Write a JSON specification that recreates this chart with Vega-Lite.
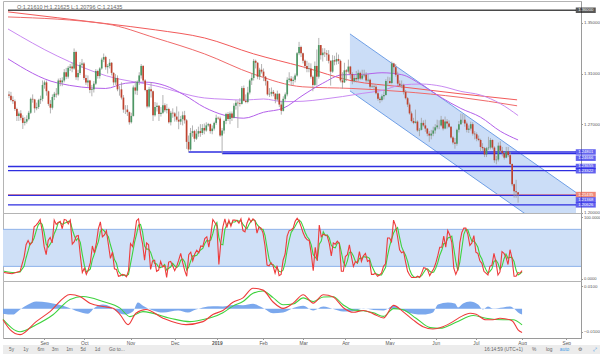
{
"$schema":"https://vega.github.io/schema/vega-lite/v6.json",
"padding":0,
"background":"#ffffff",
"spacing":0,
"bounds":"flush",
"config":{"view":{"stroke":"#b4b4b4"},"font":"Liberation Sans","axis":{"grid":false,"title":null,"labelFont":"Liberation Sans","labelFontSize":4.4,"labelColor":"#555555","domainColor":"#9a9a9a","tickColor":"#9a9a9a","tickSize":1.5,"labelPadding":1,"labelOverlap":false,"labelFlush":false,"labelBound":false}},
"datasets":{
"k":[{"i":0,"o":1.2935,"h":1.296,"l":1.2905,"c":1.2925},{"i":1,"o":1.2925,"h":1.2955,"l":1.288,"c":1.289},{"i":2,"o":1.289,"h":1.292,"l":1.286,"c":1.288},{"i":3,"o":1.288,"h":1.2895,"l":1.2805,"c":1.282},{"i":4,"o":1.282,"h":1.283,"l":1.2725,"c":1.2765},{"i":5,"o":1.2765,"h":1.28,"l":1.2725,"c":1.2785},{"i":6,"o":1.2785,"h":1.281,"l":1.273,"c":1.275},{"i":7,"o":1.275,"h":1.277,"l":1.2662,"c":1.271},{"i":8,"o":1.271,"h":1.2755,"l":1.269,"c":1.272},{"i":9,"o":1.272,"h":1.277,"l":1.2705,"c":1.274},{"i":10,"o":1.274,"h":1.2805,"l":1.273,"c":1.279},{"i":11,"o":1.279,"h":1.291,"l":1.278,"c":1.29},{"i":12,"o":1.29,"h":1.2935,"l":1.287,"c":1.2895},{"i":13,"o":1.2895,"h":1.29,"l":1.279,"c":1.2825},{"i":14,"o":1.2825,"h":1.287,"l":1.281,"c":1.2835},{"i":15,"o":1.2835,"h":1.29,"l":1.282,"c":1.289},{"i":16,"o":1.289,"h":1.2925,"l":1.286,"c":1.29},{"i":17,"o":1.29,"h":1.3045,"l":1.288,"c":1.301},{"i":18,"o":1.301,"h":1.3045,"l":1.298,"c":1.303},{"i":19,"o":1.303,"h":1.3045,"l":1.2925,"c":1.296},{"i":20,"o":1.296,"h":1.2965,"l":1.2845,"c":1.286},{"i":21,"o":1.286,"h":1.289,"l":1.2785,"c":1.283},{"i":22,"o":1.283,"h":1.2935,"l":1.2815,"c":1.2915},{"i":23,"o":1.2915,"h":1.2955,"l":1.289,"c":1.294},{"i":24,"o":1.294,"h":1.2985,"l":1.291,"c":1.2935},{"i":25,"o":1.2935,"h":1.306,"l":1.2925,"c":1.3045},{"i":26,"o":1.3045,"h":1.3065,"l":1.3,"c":1.303},{"i":27,"o":1.303,"h":1.307,"l":1.3,"c":1.3045},{"i":28,"o":1.3045,"h":1.3135,"l":1.303,"c":1.311},{"i":29,"o":1.311,"h":1.3145,"l":1.3055,"c":1.3075},{"i":30,"o":1.3075,"h":1.316,"l":1.306,"c":1.3145},{"i":31,"o":1.3145,"h":1.3175,"l":1.312,"c":1.3155},{"i":32,"o":1.3155,"h":1.3185,"l":1.311,"c":1.314},{"i":33,"o":1.314,"h":1.3298,"l":1.313,"c":1.327},{"i":34,"o":1.327,"h":1.328,"l":1.305,"c":1.307},{"i":35,"o":1.307,"h":1.313,"l":1.3045,"c":1.3105},{"i":36,"o":1.3105,"h":1.319,"l":1.309,"c":1.317},{"i":37,"o":1.317,"h":1.3215,"l":1.3145,"c":1.318},{"i":38,"o":1.318,"h":1.319,"l":1.305,"c":1.3065},{"i":39,"o":1.3065,"h":1.309,"l":1.301,"c":1.303},{"i":40,"o":1.303,"h":1.3085,"l":1.2995,"c":1.3045},{"i":41,"o":1.3045,"h":1.305,"l":1.2945,"c":1.297},{"i":42,"o":1.297,"h":1.301,"l":1.292,"c":1.2975},{"i":43,"o":1.2975,"h":1.304,"l":1.295,"c":1.302},{"i":44,"o":1.302,"h":1.3135,"l":1.301,"c":1.312},{"i":45,"o":1.312,"h":1.313,"l":1.306,"c":1.308},{"i":46,"o":1.308,"h":1.315,"l":1.306,"c":1.314},{"i":47,"o":1.314,"h":1.3225,"l":1.313,"c":1.321},{"i":48,"o":1.321,"h":1.3258,"l":1.319,"c":1.323},{"i":49,"o":1.323,"h":1.324,"l":1.313,"c":1.315},{"i":50,"o":1.315,"h":1.3175,"l":1.31,"c":1.316},{"i":51,"o":1.316,"h":1.3215,"l":1.314,"c":1.3185},{"i":52,"o":1.3185,"h":1.319,"l":1.3085,"c":1.3105},{"i":53,"o":1.3105,"h":1.311,"l":1.3005,"c":1.303},{"i":54,"o":1.303,"h":1.3095,"l":1.301,"c":1.3065},{"i":55,"o":1.3065,"h":1.3085,"l":1.296,"c":1.2975},{"i":56,"o":1.2975,"h":1.3,"l":1.2925,"c":1.2975},{"i":57,"o":1.2975,"h":1.303,"l":1.2895,"c":1.291},{"i":58,"o":1.291,"h":1.293,"l":1.279,"c":1.2815},{"i":59,"o":1.2815,"h":1.285,"l":1.278,"c":1.2815},{"i":60,"o":1.2815,"h":1.285,"l":1.2765,"c":1.2795},{"i":61,"o":1.2795,"h":1.28,"l":1.2696,"c":1.2715},{"i":62,"o":1.2715,"h":1.279,"l":1.2705,"c":1.2765},{"i":63,"o":1.2765,"h":1.3005,"l":1.276,"c":1.299},{"i":64,"o":1.299,"h":1.304,"l":1.2935,"c":1.2965},{"i":65,"o":1.2965,"h":1.3045,"l":1.293,"c":1.3035},{"i":66,"o":1.3035,"h":1.311,"l":1.301,"c":1.3085},{"i":67,"o":1.3085,"h":1.3175,"l":1.306,"c":1.316},{"i":68,"o":1.316,"h":1.3165,"l":1.303,"c":1.3045},{"i":69,"o":1.3045,"h":1.3055,"l":1.296,"c":1.297},{"i":70,"o":1.297,"h":1.2975,"l":1.2825,"c":1.284},{"i":71,"o":1.284,"h":1.2995,"l":1.283,"c":1.2975},{"i":72,"o":1.2975,"h":1.303,"l":1.291,"c":1.296},{"i":73,"o":1.296,"h":1.2965,"l":1.2725,"c":1.277},{"i":74,"o":1.277,"h":1.2875,"l":1.276,"c":1.2835},{"i":75,"o":1.2835,"h":1.287,"l":1.28,"c":1.2845},{"i":76,"o":1.2845,"h":1.285,"l":1.2725,"c":1.278},{"i":77,"o":1.278,"h":1.2835,"l":1.276,"c":1.279},{"i":78,"o":1.279,"h":1.293,"l":1.278,"c":1.285},{"i":79,"o":1.285,"h":1.2865,"l":1.2795,"c":1.281},{"i":80,"o":1.281,"h":1.286,"l":1.2785,"c":1.282},{"i":81,"o":1.282,"h":1.283,"l":1.2705,"c":1.2715},{"i":82,"o":1.2715,"h":1.2805,"l":1.269,"c":1.279},{"i":83,"o":1.279,"h":1.2825,"l":1.275,"c":1.2785},{"i":84,"o":1.2785,"h":1.2795,"l":1.272,"c":1.276},{"i":85,"o":1.276,"h":1.284,"l":1.272,"c":1.2735},{"i":86,"o":1.2735,"h":1.28,"l":1.266,"c":1.272},{"i":87,"o":1.272,"h":1.2765,"l":1.2695,"c":1.274},{"i":88,"o":1.274,"h":1.28,"l":1.269,"c":1.277},{"i":89,"o":1.277,"h":1.2805,"l":1.2705,"c":1.273},{"i":90,"o":1.273,"h":1.274,"l":1.2505,"c":1.256},{"i":91,"o":1.256,"h":1.261,"l":1.24801,"c":1.25},{"i":92,"o":1.25,"h":1.267,"l":1.249,"c":1.263},{"i":93,"o":1.263,"h":1.269,"l":1.26,"c":1.2645},{"i":94,"o":1.2645,"h":1.2655,"l":1.256,"c":1.2585},{"i":95,"o":1.2585,"h":1.266,"l":1.2575,"c":1.2625},{"i":96,"o":1.2625,"h":1.268,"l":1.26,"c":1.2645},{"i":97,"o":1.2645,"h":1.27,"l":1.26,"c":1.263},{"i":98,"o":1.263,"h":1.27,"l":1.2615,"c":1.267},{"i":99,"o":1.267,"h":1.2705,"l":1.262,"c":1.265},{"i":100,"o":1.265,"h":1.2715,"l":1.264,"c":1.269},{"i":101,"o":1.269,"h":1.271,"l":1.268,"c":1.27},{"i":102,"o":1.27,"h":1.2705,"l":1.2625,"c":1.2645},{"i":103,"o":1.2645,"h":1.269,"l":1.262,"c":1.2665},{"i":104,"o":1.2665,"h":1.272,"l":1.265,"c":1.271},{"i":105,"o":1.271,"h":1.2775,"l":1.2695,"c":1.275},{"i":106,"o":1.275,"h":1.276,"l":1.2735,"c":1.2745},{"i":107,"o":1.2745,"h":1.276,"l":1.26,"c":1.261},{"i":108,"o":1.261,"h":1.267,"l":1.24666,"c":1.265},{"i":109,"o":1.265,"h":1.2735,"l":1.2625,"c":1.2725},{"i":110,"o":1.2725,"h":1.279,"l":1.27,"c":1.278},{"i":111,"o":1.278,"h":1.2795,"l":1.2725,"c":1.274},{"i":112,"o":1.274,"h":1.28,"l":1.27,"c":1.2785},{"i":113,"o":1.2785,"h":1.28,"l":1.2725,"c":1.275},{"i":114,"o":1.275,"h":1.2865,"l":1.2745,"c":1.2845},{"i":115,"o":1.2845,"h":1.289,"l":1.2815,"c":1.287},{"i":116,"o":1.287,"h":1.2885,"l":1.267,"c":1.2865},{"i":117,"o":1.2865,"h":1.2905,"l":1.284,"c":1.286},{"i":118,"o":1.286,"h":1.3,"l":1.2855,"c":1.2985},{"i":119,"o":1.2985,"h":1.3005,"l":1.288,"c":1.2885},{"i":120,"o":1.2885,"h":1.2935,"l":1.2865,"c":1.2875},{"i":121,"o":1.2875,"h":1.2995,"l":1.2865,"c":1.295},{"i":122,"o":1.295,"h":1.3055,"l":1.2935,"c":1.3045},{"i":123,"o":1.3045,"h":1.31,"l":1.301,"c":1.3065},{"i":124,"o":1.3065,"h":1.3215,"l":1.3045,"c":1.32},{"i":125,"o":1.32,"h":1.321,"l":1.314,"c":1.3185},{"i":126,"o":1.3185,"h":1.319,"l":1.3055,"c":1.3075},{"i":127,"o":1.3075,"h":1.3145,"l":1.305,"c":1.313},{"i":128,"o":1.313,"h":1.3175,"l":1.31,"c":1.3115},{"i":129,"o":1.3115,"h":1.314,"l":1.304,"c":1.3075},{"i":130,"o":1.3075,"h":1.308,"l":1.3005,"c":1.304},{"i":131,"o":1.304,"h":1.3045,"l":1.2925,"c":1.2935},{"i":132,"o":1.2935,"h":1.2985,"l":1.2915,"c":1.294},{"i":133,"o":1.294,"h":1.299,"l":1.292,"c":1.2955},{"i":134,"o":1.2955,"h":1.297,"l":1.292,"c":1.294},{"i":135,"o":1.294,"h":1.2945,"l":1.2865,"c":1.2895},{"i":136,"o":1.2895,"h":1.2965,"l":1.2885,"c":1.294},{"i":137,"o":1.294,"h":1.2945,"l":1.2835,"c":1.2855},{"i":138,"o":1.2855,"h":1.2885,"l":1.2775,"c":1.2805},{"i":139,"o":1.2805,"h":1.292,"l":1.28,"c":1.29},{"i":140,"o":1.29,"h":1.295,"l":1.2885,"c":1.2935},{"i":141,"o":1.2935,"h":1.307,"l":1.292,"c":1.305},{"i":142,"o":1.305,"h":1.311,"l":1.303,"c":1.306},{"i":143,"o":1.306,"h":1.308,"l":1.3005,"c":1.304},{"i":144,"o":1.304,"h":1.3075,"l":1.301,"c":1.305},{"i":145,"o":1.305,"h":1.31,"l":1.303,"c":1.3085},{"i":146,"o":1.3085,"h":1.327,"l":1.3075,"c":1.326},{"i":147,"o":1.326,"h":1.335,"l":1.3245,"c":1.331},{"i":148,"o":1.331,"h":1.332,"l":1.323,"c":1.326},{"i":149,"o":1.326,"h":1.3265,"l":1.318,"c":1.32},{"i":150,"o":1.32,"h":1.321,"l":1.314,"c":1.316},{"i":151,"o":1.316,"h":1.32,"l":1.311,"c":1.3135},{"i":152,"o":1.3135,"h":1.3185,"l":1.311,"c":1.314},{"i":153,"o":1.314,"h":1.318,"l":1.306,"c":1.3075},{"i":154,"o":1.3075,"h":1.3085,"l":1.296,"c":1.301},{"i":155,"o":1.301,"h":1.3195,"l":1.3,"c":1.316},{"i":156,"o":1.316,"h":1.329,"l":1.3005,"c":1.3075},{"i":157,"o":1.3075,"h":1.3381,"l":1.306,"c":1.3325},{"i":158,"o":1.3325,"h":1.3325,"l":1.321,"c":1.3245},{"i":159,"o":1.3245,"h":1.33,"l":1.3195,"c":1.3265},{"i":160,"o":1.3265,"h":1.33,"l":1.323,"c":1.326},{"i":161,"o":1.326,"h":1.3285,"l":1.32,"c":1.325},{"i":162,"o":1.325,"h":1.3285,"l":1.318,"c":1.32},{"i":163,"o":1.32,"h":1.3205,"l":1.3005,"c":1.3115},{"i":164,"o":1.3115,"h":1.3245,"l":1.3105,"c":1.3205},{"i":165,"o":1.3205,"h":1.324,"l":1.3165,"c":1.3195},{"i":166,"o":1.3195,"h":1.3265,"l":1.317,"c":1.3215},{"i":167,"o":1.3215,"h":1.325,"l":1.3175,"c":1.32},{"i":168,"o":1.32,"h":1.321,"l":1.303,"c":1.3045},{"i":169,"o":1.3045,"h":1.311,"l":1.298,"c":1.303},{"i":170,"o":1.303,"h":1.3185,"l":1.3025,"c":1.3125},{"i":171,"o":1.3125,"h":1.3135,"l":1.304,"c":1.3115},{"i":172,"o":1.3115,"h":1.321,"l":1.31,"c":1.3155},{"i":173,"o":1.3155,"h":1.316,"l":1.306,"c":1.3095},{"i":174,"o":1.3095,"h":1.311,"l":1.3015,"c":1.304},{"i":175,"o":1.304,"h":1.309,"l":1.303,"c":1.3065},{"i":176,"o":1.3065,"h":1.312,"l":1.303,"c":1.3055},{"i":177,"o":1.3055,"h":1.313,"l":1.304,"c":1.3105},{"i":178,"o":1.3105,"h":1.3115,"l":1.305,"c":1.306},{"i":179,"o":1.306,"h":1.313,"l":1.305,"c":1.3085},{"i":180,"o":1.3085,"h":1.313,"l":1.307,"c":1.309},{"i":181,"o":1.309,"h":1.311,"l":1.303,"c":1.3045},{"i":182,"o":1.3045,"h":1.3095,"l":1.303,"c":1.305},{"i":183,"o":1.305,"h":1.306,"l":1.298,"c":1.2995},{"i":184,"o":1.2995,"h":1.3015,"l":1.2985,"c":1.3},{"i":185,"o":1.3,"h":1.301,"l":1.2975,"c":1.2995},{"i":186,"o":1.2995,"h":1.3015,"l":1.2935,"c":1.2945},{"i":187,"o":1.2945,"h":1.2955,"l":1.2885,"c":1.29},{"i":188,"o":1.29,"h":1.2915,"l":1.2866,"c":1.289},{"i":189,"o":1.289,"h":1.2935,"l":1.288,"c":1.292},{"i":190,"o":1.292,"h":1.296,"l":1.2895,"c":1.293},{"i":191,"o":1.293,"h":1.3055,"l":1.2925,"c":1.304},{"i":192,"o":1.304,"h":1.3075,"l":1.3,"c":1.304},{"i":193,"o":1.304,"h":1.307,"l":1.3015,"c":1.3025},{"i":194,"o":1.3025,"h":1.3195,"l":1.3015,"c":1.318},{"i":195,"o":1.318,"h":1.3185,"l":1.3105,"c":1.315},{"i":196,"o":1.315,"h":1.3175,"l":1.3075,"c":1.309},{"i":197,"o":1.309,"h":1.3115,"l":1.3,"c":1.302},{"i":198,"o":1.302,"h":1.3045,"l":1.2995,"c":1.3005},{"i":199,"o":1.3005,"h":1.3045,"l":1.2985,"c":1.301},{"i":200,"o":1.301,"h":1.302,"l":1.2935,"c":1.2955},{"i":201,"o":1.2955,"h":1.297,"l":1.2895,"c":1.2905},{"i":202,"o":1.2905,"h":1.2915,"l":1.2835,"c":1.2855},{"i":203,"o":1.2855,"h":1.287,"l":1.2775,"c":1.2785},{"i":204,"o":1.2785,"h":1.28,"l":1.2715,"c":1.2725},{"i":205,"o":1.2725,"h":1.275,"l":1.27,"c":1.271},{"i":206,"o":1.271,"h":1.2815,"l":1.2705,"c":1.272},{"i":207,"o":1.272,"h":1.273,"l":1.264,"c":1.265},{"i":208,"o":1.265,"h":1.267,"l":1.2605,"c":1.2655},{"i":209,"o":1.2655,"h":1.275,"l":1.265,"c":1.271},{"i":210,"o":1.271,"h":1.273,"l":1.268,"c":1.269},{"i":211,"o":1.269,"h":1.2735,"l":1.264,"c":1.2665},{"i":212,"o":1.2665,"h":1.267,"l":1.2605,"c":1.2625},{"i":213,"o":1.2625,"h":1.2645,"l":1.256,"c":1.261},{"i":214,"o":1.261,"h":1.2655,"l":1.258,"c":1.2625},{"i":215,"o":1.2625,"h":1.268,"l":1.2605,"c":1.265},{"i":216,"o":1.265,"h":1.27,"l":1.2625,"c":1.2675},{"i":217,"o":1.2675,"h":1.2735,"l":1.266,"c":1.269},{"i":218,"o":1.269,"h":1.273,"l":1.266,"c":1.269},{"i":219,"o":1.269,"h":1.2765,"l":1.268,"c":1.2735},{"i":220,"o":1.2735,"h":1.274,"l":1.265,"c":1.2665},{"i":221,"o":1.2665,"h":1.276,"l":1.266,"c":1.272},{"i":222,"o":1.272,"h":1.274,"l":1.2665,"c":1.2705},{"i":223,"o":1.2705,"h":1.273,"l":1.267,"c":1.268},{"i":224,"o":1.268,"h":1.2685,"l":1.2585,"c":1.2595},{"i":225,"o":1.2595,"h":1.2605,"l":1.254,"c":1.2555},{"i":226,"o":1.2555,"h":1.259,"l":1.2506,"c":1.2545},{"i":227,"o":1.2545,"h":1.2665,"l":1.253,"c":1.2655},{"i":228,"o":1.2655,"h":1.2725,"l":1.2635,"c":1.27},{"i":229,"o":1.27,"h":1.2784,"l":1.2695,"c":1.2735},{"i":230,"o":1.2735,"h":1.278,"l":1.271,"c":1.2735},{"i":231,"o":1.2735,"h":1.277,"l":1.268,"c":1.2705},{"i":232,"o":1.2705,"h":1.272,"l":1.2635,"c":1.2655},{"i":233,"o":1.2655,"h":1.269,"l":1.263,"c":1.2665},{"i":234,"o":1.2665,"h":1.272,"l":1.265,"c":1.27},{"i":235,"o":1.27,"h":1.2715,"l":1.261,"c":1.2625},{"i":236,"o":1.2625,"h":1.2645,"l":1.258,"c":1.262},{"i":237,"o":1.262,"h":1.2635,"l":1.2565,"c":1.2585},{"i":238,"o":1.2585,"h":1.261,"l":1.2565,"c":1.2575},{"i":239,"o":1.2575,"h":1.2585,"l":1.2485,"c":1.252},{"i":240,"o":1.252,"h":1.255,"l":1.249,"c":1.251},{"i":241,"o":1.251,"h":1.252,"l":1.244,"c":1.246},{"i":242,"o":1.246,"h":1.252,"l":1.244,"c":1.251},{"i":243,"o":1.251,"h":1.26,"l":1.2495,"c":1.2515},{"i":244,"o":1.2515,"h":1.259,"l":1.25,"c":1.2575},{"i":245,"o":1.2575,"h":1.258,"l":1.25,"c":1.2515},{"i":246,"o":1.2515,"h":1.2525,"l":1.2395,"c":1.2415},{"i":247,"o":1.2415,"h":1.245,"l":1.2383,"c":1.242},{"i":248,"o":1.242,"h":1.2555,"l":1.2405,"c":1.253},{"i":249,"o":1.253,"h":1.2565,"l":1.2475,"c":1.249},{"i":250,"o":1.249,"h":1.252,"l":1.2445,"c":1.247},{"i":251,"o":1.247,"h":1.248,"l":1.242,"c":1.2435},{"i":252,"o":1.2435,"h":1.252,"l":1.243,"c":1.2485},{"i":253,"o":1.2485,"h":1.252,"l":1.244,"c":1.2455},{"i":254,"o":1.2455,"h":1.248,"l":1.2375,"c":1.2385},{"i":255,"o":1.2385,"h":1.239,"l":1.221,"c":1.2225},{"i":256,"o":1.2225,"h":1.223,"l":1.212,"c":1.217},{"i":257,"o":1.217,"h":1.226,"l":1.2118,"c":1.2161},{"i":258,"o":1.2161,"h":1.21625,"l":1.20796,"c":1.21435}],
"ma":[{"s":"A","i":-0.5,"v":1.3587},{"s":"A","i":49.3,"v":1.3494},{"s":"A","i":74.2,"v":1.3445},{"s":"A","i":99.1,"v":1.3381},{"s":"A","i":124,"v":1.3255},{"s":"A","i":148.9,"v":1.3153},{"s":"A","i":173.8,"v":1.3042},{"s":"A","i":198.7,"v":1.2995},{"s":"A","i":228.6,"v":1.294},{"s":"A","i":257.5,"v":1.2892},
{"s":"B","i":-0.5,"v":1.3547},{"s":"B","i":49.3,"v":1.3492},{"s":"B","i":74.2,"v":1.3381},{"s":"B","i":99.1,"v":1.3255},{"s":"B","i":124,"v":1.3095},{"s":"B","i":148.9,"v":1.2995},{"s":"B","i":173.8,"v":1.2982},{"s":"B","i":198.7,"v":1.2958},{"s":"B","i":228.6,"v":1.2912},{"s":"B","i":257.5,"v":1.2845},
{"s":"P1","i":-0.5,"v":1.3452},{"s":"P1","i":24.4,"v":1.3239},{"s":"P1","i":49.3,"v":1.3082},{"s":"P1","i":74.2,"v":1.3003},{"s":"P1","i":99,"v":1.2907},{"s":"P1","i":109,"v":1.2897},{"s":"P1","i":119,"v":1.289},{"s":"P1","i":129,"v":1.2899},{"s":"P1","i":139,"v":1.2878},{"s":"P1","i":149,"v":1.2881},{"s":"P1","i":159,"v":1.2897},{"s":"P1","i":169,"v":1.2918},{"s":"P1","i":179,"v":1.2943},{"s":"P1","i":189,"v":1.2966},{"s":"P1","i":199,"v":1.301},{"s":"P1","i":209,"v":1.3017},{"s":"P1","i":219,"v":1.3},{"s":"P1","i":229,"v":1.2959},{"s":"P1","i":239,"v":1.293},{"s":"P1","i":249,"v":1.2862},{"s":"P1","i":258,"v":1.2768},
{"s":"P2","i":-0.5,"v":1.3216},{"s":"P2","i":24.4,"v":1.3026},{"s":"P2","i":49,"v":1.2982},{"s":"P2","i":59,"v":1.3023},{"s":"P2","i":69,"v":1.3032},{"s":"P2","i":79,"v":1.3005},{"s":"P2","i":89,"v":1.2929},{"s":"P2","i":99,"v":1.2833},{"s":"P2","i":109,"v":1.2771},{"s":"P2","i":119,"v":1.2747},{"s":"P2","i":129,"v":1.2794},{"s":"P2","i":139,"v":1.2826},{"s":"P2","i":149,"v":1.2929},{"s":"P2","i":159,"v":1.3023},{"s":"P2","i":169,"v":1.309},{"s":"P2","i":179,"v":1.3093},{"s":"P2","i":189,"v":1.3106},{"s":"P2","i":199,"v":1.3091},{"s":"P2","i":209,"v":1.3012},{"s":"P2","i":219,"v":1.2911},{"s":"P2","i":229,"v":1.2824},{"s":"P2","i":239,"v":1.2755},{"s":"P2","i":249,"v":1.2644},{"s":"P2","i":258,"v":1.2575}],
"hl":[{"p":1.36,"i0":-0.5,"i1":287.35,"k":"k"},{"p":1.24801,"i0":91,"i1":287.35,"k":"b"},{"p":1.24666,"i0":108,"i1":287.35,"k":"b"},{"p":1.23655,"i0":-0.5,"i1":287.35,"k":"b"},{"p":1.23322,"i0":-0.5,"i1":287.35,"k":"b"},{"p":1.21435,"i0":-0.5,"i1":287.35,"k":"r"},{"p":1.21368,"i0":-0.5,"i1":287.35,"k":"b"},{"p":1.20626,"i0":-0.5,"i1":287.35,"k":"b"}],
"ch":[{"i":172.8,"up":1.3413,"lo":1.2963},{"i":287.35,"up":1.216,"lo":1.171}],
"st":[{"i":0,"k":10,"d":12},{"i":2,"k":9,"d":11},{"i":4,"k":8,"d":10},{"i":6,"k":10,"d":10},{"i":8,"k":12,"d":11},{"i":10,"k":35,"d":20},{"i":11,"k":55,"d":34},{"i":12,"k":62,"d":45},{"i":13,"k":55,"d":57},{"i":14,"k":59,"d":59},{"i":15,"k":84,"d":66},{"i":16,"k":87,"d":77},{"i":17,"k":91,"d":87},{"i":18,"k":96,"d":91},{"i":19,"k":78,"d":88},{"i":20,"k":52,"d":75},{"i":21,"k":39,"d":56},{"i":22,"k":62,"d":51},{"i":23,"k":67,"d":56},{"i":24,"k":58,"d":62},{"i":25,"k":95,"d":73},{"i":26,"k":88,"d":80},{"i":27,"k":91,"d":91},{"i":28,"k":93,"d":91},{"i":29,"k":81,"d":88},{"i":30,"k":96,"d":90},{"i":31,"k":95,"d":91},{"i":32,"k":89,"d":93},{"i":33,"k":95,"d":93},{"i":34,"k":56,"d":80},{"i":35,"k":60,"d":70},{"i":36,"k":69,"d":62},{"i":37,"k":70,"d":66},{"i":38,"k":38,"d":59},{"i":39,"k":10,"d":39},{"i":40,"k":17,"d":22},{"i":41,"k":7,"d":11},{"i":42,"k":15,"d":13},{"i":43,"k":26,"d":16},{"i":44,"k":53,"d":31},{"i":45,"k":42,"d":40},{"i":46,"k":58,"d":51},{"i":47,"k":81,"d":60},{"i":48,"k":92,"d":77},{"i":49,"k":68,"d":80},{"i":50,"k":71,"d":77},{"i":51,"k":78,"d":72},{"i":52,"k":55,"d":68},{"i":53,"k":33,"d":55},{"i":54,"k":43,"d":44},{"i":55,"k":16,"d":31},{"i":56,"k":15,"d":25},{"i":57,"k":4,"d":12},{"i":58,"k":5,"d":8},{"i":59,"k":7,"d":5},{"i":60,"k":6,"d":6},{"i":61,"k":3,"d":5},{"i":62,"k":13,"d":7},{"i":63,"k":57,"d":24},{"i":64,"k":52,"d":41},{"i":65,"k":69,"d":59},{"i":66,"k":94,"d":72},{"i":67,"k":97,"d":87},{"i":68,"k":73,"d":88},{"i":69,"k":57,"d":76},{"i":70,"k":30,"d":53},{"i":71,"k":58,"d":48},{"i":72,"k":55,"d":48},{"i":73,"k":15,"d":43},{"i":74,"k":29,"d":33},{"i":75,"k":30,"d":25},{"i":76,"k":12,"d":24},{"i":77,"k":14,"d":19},{"i":78,"k":28,"d":18},{"i":79,"k":19,"d":20},{"i":80,"k":21,"d":23},{"i":81,"k":2,"d":14},{"i":82,"k":27,"d":17},{"i":83,"k":28,"d":19},{"i":84,"k":21,"d":25},{"i":85,"k":13,"d":21},{"i":86,"k":20,"d":18},{"i":87,"k":30,"d":21},{"i":88,"k":41,"d":30},{"i":89,"k":26,"d":32},{"i":90,"k":13,"d":27},{"i":91,"k":4,"d":14},{"i":92,"k":39,"d":19},{"i":93,"k":43,"d":29},{"i":94,"k":29,"d":37},{"i":95,"k":40,"d":37},{"i":96,"k":46,"d":38},{"i":97,"k":42,"d":43},{"i":98,"k":53,"d":47},{"i":99,"k":52,"d":49},{"i":100,"k":65,"d":57},{"i":101,"k":68,"d":62},{"i":102,"k":51,"d":61},{"i":103,"k":71,"d":63},{"i":104,"k":96,"d":73},{"i":105,"k":91,"d":86},{"i":106,"k":86,"d":91},{"i":107,"k":23,"d":67},{"i":108,"k":59,"d":56},{"i":109,"k":84,"d":55},{"i":110,"k":97,"d":80},{"i":111,"k":83,"d":88},{"i":112,"k":95,"d":92},{"i":113,"k":85,"d":88},{"i":114,"k":95,"d":92},{"i":115,"k":95,"d":92},{"i":116,"k":94,"d":95},{"i":117,"k":90,"d":93},{"i":118,"k":97,"d":94},{"i":119,"k":78,"d":88},{"i":120,"k":76,"d":84},{"i":121,"k":90,"d":81},{"i":122,"k":98,"d":88},{"i":123,"k":92,"d":93},{"i":124,"k":97,"d":96},{"i":125,"k":94,"d":94},{"i":126,"k":74,"d":88},{"i":127,"k":84,"d":84},{"i":128,"k":82,"d":80},{"i":129,"k":74,"d":80},{"i":130,"k":53,"d":70},{"i":131,"k":22,"d":50},{"i":132,"k":21,"d":32},{"i":133,"k":26,"d":23},{"i":134,"k":21,"d":23},{"i":135,"k":9,"d":19},{"i":136,"k":21,"d":17},{"i":137,"k":5,"d":12},{"i":138,"k":7,"d":11},{"i":139,"k":30,"d":14},{"i":140,"k":40,"d":26},{"i":141,"k":69,"d":46},{"i":142,"k":78,"d":62},{"i":143,"k":79,"d":75},{"i":144,"k":82,"d":80},{"i":145,"k":93,"d":85},{"i":146,"k":98,"d":91},{"i":147,"k":93,"d":95},{"i":148,"k":84,"d":92},{"i":149,"k":74,"d":84},{"i":150,"k":67,"d":75},{"i":151,"k":63,"d":68},{"i":152,"k":62,"d":64},{"i":153,"k":41,"d":55},{"i":154,"k":13,"d":39},{"i":155,"k":51,"d":35},{"i":156,"k":29,"d":31},{"i":157,"k":87,"d":56},{"i":158,"k":68,"d":61},{"i":159,"k":72,"d":76},{"i":160,"k":71,"d":70},{"i":161,"k":69,"d":71},{"i":162,"k":57,"d":66},{"i":163,"k":37,"d":54},{"i":164,"k":58,"d":51},{"i":165,"k":56,"d":50},{"i":166,"k":61,"d":58},{"i":167,"k":57,"d":58},{"i":168,"k":12,"d":43},{"i":169,"k":12,"d":27},{"i":170,"k":36,"d":20},{"i":171,"k":39,"d":29},{"i":172,"k":55,"d":43},{"i":173,"k":36,"d":43},{"i":174,"k":20,"d":37},{"i":175,"k":28,"d":28},{"i":176,"k":26,"d":25},{"i":177,"k":44,"d":33},{"i":178,"k":28,"d":33},{"i":179,"k":37,"d":36},{"i":180,"k":41,"d":35},{"i":181,"k":28,"d":35},{"i":182,"k":30,"d":33},{"i":183,"k":7,"d":22},{"i":184,"k":7,"d":15},{"i":185,"k":9,"d":8},{"i":186,"k":4,"d":7},{"i":187,"k":6,"d":6},{"i":188,"k":9,"d":6},{"i":189,"k":20,"d":12},{"i":190,"k":24,"d":18},{"i":191,"k":66,"d":37},{"i":192,"k":66,"d":52},{"i":193,"k":60,"d":64},{"i":194,"k":95,"d":74},{"i":195,"k":86,"d":80},{"i":196,"k":68,"d":83},{"i":197,"k":47,"d":67},{"i":198,"k":42,"d":52},{"i":199,"k":44,"d":44},{"i":200,"k":27,"d":38},{"i":201,"k":12,"d":28},{"i":202,"k":6,"d":15},{"i":203,"k":2,"d":7},{"i":204,"k":2,"d":3},{"i":205,"k":2,"d":2},{"i":206,"k":4,"d":3},{"i":207,"k":2,"d":3},{"i":208,"k":9,"d":5},{"i":209,"k":18,"d":10},{"i":210,"k":17,"d":15},{"i":211,"k":14,"d":16},{"i":212,"k":5,"d":12},{"i":213,"k":11,"d":10},{"i":214,"k":16,"d":11},{"i":215,"k":25,"d":17},{"i":216,"k":37,"d":26},{"i":217,"k":51,"d":38},{"i":218,"k":51,"d":46},{"i":219,"k":69,"d":57},{"i":220,"k":51,"d":57},{"i":221,"k":78,"d":66},{"i":222,"k":71,"d":67},{"i":223,"k":59,"d":69},{"i":224,"k":17,"d":49},{"i":225,"k":7,"d":28},{"i":226,"k":15,"d":13},{"i":227,"k":58,"d":27},{"i":228,"k":75,"d":49},{"i":229,"k":82,"d":72},{"i":230,"k":82,"d":80},{"i":231,"k":72,"d":79},{"i":232,"k":54,"d":69},{"i":233,"k":58,"d":61},{"i":234,"k":70,"d":61},{"i":235,"k":43,"d":57},{"i":236,"k":41,"d":51},{"i":237,"k":29,"d":38},{"i":238,"k":25,"d":32},{"i":239,"k":12,"d":22},{"i":240,"k":9,"d":15},{"i":241,"k":6,"d":9},{"i":242,"k":20,"d":12},{"i":243,"k":22,"d":16},{"i":244,"k":41,"d":28},{"i":245,"k":27,"d":30},{"i":246,"k":6,"d":25},{"i":247,"k":11,"d":15},{"i":248,"k":44,"d":20},{"i":249,"k":41,"d":32},{"i":250,"k":35,"d":40},{"i":251,"k":23,"d":33},{"i":252,"k":47,"d":35},{"i":253,"k":33,"d":34},{"i":254,"k":4,"d":28},{"i":255,"k":4,"d":14},{"i":256,"k":10,"d":6},{"i":257,"k":9,"d":8},{"i":258,"k":13,"d":11}],
"mh":[{"i":-0.5,"v":-0.0021},{"i":4.5,"v":-0.0025},{"i":8,"v":-0.0003},{"i":12,"v":0.0019},{"i":16,"v":0.0032},{"i":21.9,"v":0.0028},{"i":26.9,"v":0.0019},{"i":31.9,"v":0.0006},{"i":36.9,"v":-0.0012},{"i":41.8,"v":-0.0021},{"i":45.3,"v":0.0006},{"i":49.3,"v":0.0019},{"i":52.8,"v":0.001},{"i":55.3,"v":-0.0007},{"i":60.3,"v":-0.0025},{"i":64.2,"v":-0.0012},{"i":66.7,"v":0.0028},{"i":69.2,"v":0.0014},{"i":74.2,"v":-0.0007},{"i":79.2,"v":-0.0016},{"i":86.7,"v":-0.0007},{"i":91.6,"v":-0.0016},{"i":95.6,"v":-0.0003},{"i":99.1,"v":0.0006},{"i":104,"v":0.0011},{"i":109,"v":0.001},{"i":114,"v":0.0017},{"i":119,"v":0.0016},{"i":124,"v":0.0022},{"i":129,"v":0.0004},{"i":134,"v":-0.0019},{"i":139,"v":-0.0016},{"i":144,"v":0.0004},{"i":149,"v":0.0014},{"i":154,"v":-0.0007},{"i":159,"v":0.001},{"i":164,"v":-0.0001},{"i":169,"v":-0.0012},{"i":174,"v":-0.001},{"i":179,"v":0.0001},{"i":184,"v":-0.0005},{"i":189,"v":-0.0007},{"i":194,"v":0.0014},{"i":198.7,"v":-0.0007},{"i":203.7,"v":-0.0021},{"i":208.7,"v":-0.0025},{"i":213.6,"v":-0.0016},{"i":216.1,"v":0.0019},{"i":221.1,"v":0.0028},{"i":224.6,"v":0.0023},{"i":226.1,"v":0.0006},{"i":228.6,"v":0.0023},{"i":232.1,"v":0.0032},{"i":236.1,"v":0.0019},{"i":238.5,"v":-0.0003},{"i":241,"v":0.001},{"i":243.5,"v":0.0001},{"i":248.5,"v":0.0006},{"i":252,"v":0.001},{"i":254.5,"v":-0.0003},{"i":256,"v":-0.0016},{"i":258,"v":-0.0025}],
"mm":[{"i":-0.5,"v":-0.0048},{"i":3,"v":-0.0091},{"i":8,"v":-0.0113},{"i":16,"v":-0.0056},{"i":22.9,"v":-0.0012},{"i":32.9,"v":0.0063},{"i":37.8,"v":0.0054},{"i":42.8,"v":0.0025},{"i":49.3,"v":0.001},{"i":54.3,"v":0.0003},{"i":57.8,"v":-0.0025},{"i":61.8,"v":-0.0069},{"i":65.7,"v":-0.0019},{"i":70.7,"v":-0.0003},{"i":79.2,"v":-0.0041},{"i":90.6,"v":-0.0069},{"i":99.1,"v":-0.0056},{"i":104,"v":-0.0025},{"i":109,"v":-0.0007},{"i":114,"v":0.0029},{"i":119,"v":0.0048},{"i":124,"v":0.009},{"i":129,"v":0.0082},{"i":134,"v":0.003},{"i":139,"v":0.0002},{"i":144,"v":0.0025},{"i":149,"v":0.0062},{"i":154,"v":0.0025},{"i":159,"v":0.0062},{"i":164,"v":0.0052},{"i":169,"v":0.0005},{"i":174,"v":-0.0015},{"i":179,"v":-0.0007},{"i":184,"v":-0.0022},{"i":189,"v":-0.004},{"i":194,"v":0.0015},{"i":198.7,"v":-0.0012},{"i":203.7,"v":-0.0048},{"i":208.7,"v":-0.0078},{"i":213.6,"v":-0.0088},{"i":218.6,"v":-0.0078},{"i":223.6,"v":-0.0056},{"i":227.6,"v":-0.0034},{"i":232.1,"v":-0.0019},{"i":235.1,"v":-0.0024},{"i":240,"v":-0.0048},{"i":243.5,"v":-0.0048},{"i":247,"v":-0.0041},{"i":252,"v":-0.0048},{"i":253.5,"v":-0.0056},{"i":256,"v":-0.0092},{"i":258,"v":-0.0104}],
"ms":[{"i":-0.5,"v":-0.0046},{"i":8,"v":-0.01},{"i":16,"v":-0.007},{"i":24.4,"v":-0.0026},{"i":32.9,"v":0.0041},{"i":39.3,"v":0.0054},{"i":49.3,"v":0.0032},{"i":57.8,"v":0.0003},{"i":62.7,"v":-0.0034},{"i":69.2,"v":-0.0012},{"i":82.7,"v":-0.0041},{"i":92.6,"v":-0.0056},{"i":99.1,"v":-0.0047},{"i":104,"v":-0.0036},{"i":109,"v":-0.0017},{"i":114,"v":0.0012},{"i":119,"v":0.0032},{"i":124,"v":0.0068},{"i":129,"v":0.0078},{"i":134,"v":0.0049},{"i":139,"v":0.0018},{"i":144,"v":0.0021},{"i":149,"v":0.0048},{"i":154,"v":0.0032},{"i":159,"v":0.0052},{"i":164,"v":0.0053},{"i":169,"v":0.0017},{"i":174,"v":-0.0005},{"i":179,"v":-0.0008},{"i":184,"v":-0.0017},{"i":189,"v":-0.0033},{"i":194,"v":0.0001},{"i":198.7,"v":-0.0004},{"i":205.2,"v":-0.0041},{"i":212.2,"v":-0.0082},{"i":217.1,"v":-0.0085},{"i":225.1,"v":-0.0059},{"i":233.6,"v":-0.0029},{"i":240,"v":-0.0041},{"i":248.5,"v":-0.0048},{"i":253.5,"v":-0.0048},{"i":258,"v":-0.007}],
"tbl":[{"t":"5y"},{"t":"1y"},{"t":"6m"},{"t":"3m"},{"t":"1m"},{"t":"5d"},{"t":"1d"},{"t":"Go to..."}],
"tbr":[{"t":"16:14:59 (UTC+1)"},{"t":"%"},{"t":"log"},{"t":"auto"},{"t":"⚙"},{"t":"⤢"}]
},
"vconcat":[
{"width":578,"height":212,
"resolve":{"scale":{"color":"independent"}},
"layer":[
{"data":{"name":"ch"},"mark":{"type":"area","color":"#a9c6f2","opacity":0.6,"clip":true},
"encoding":{"x":{"field":"i","type":"quantitative","scale":{"domain":[-0.5,287.35],"nice":false,"zero":false},"axis":null},
"y":{"field":"up","type":"quantitative","scale":{"domain":[1.1998,1.3673],"nice":false,"zero":false},"axis":{"orient":"right","values":[1.2,1.22,1.23,1.26,1.27,1.28,1.29,1.3,1.31,1.32,1.33,1.34,1.35],"format":".5f","labelOverlap":false,"labelFontSize":4.4,"labelFont":"Liberation Sans"}},
"y2":{"field":"lo"}}},
{"data":{"name":"ch"},"mark":{"type":"line","color":"#6f9fe6","strokeWidth":1,"clip":true},
"encoding":{"x":{"field":"i","type":"quantitative"},"y":{"field":"up","type":"quantitative"}}},
{"data":{"name":"ch"},"mark":{"type":"line","color":"#6f9fe6","strokeWidth":1,"clip":true},
"encoding":{"x":{"field":"i","type":"quantitative"},"y":{"field":"lo","type":"quantitative"}}},
{"data":{"name":"hl"},"mark":{"type":"rule","strokeWidth":1.3},
"encoding":{"x":{"field":"i0","type":"quantitative"},"x2":{"field":"i1"},"y":{"field":"p","type":"quantitative"},
"color":{"field":"k","type":"nominal","scale":{"domain":["k","b","r"],"range":["#4a4a4a","#2e2ee0","#f29a92"]},"legend":null}}},
{"data":{"name":"ma"},"mark":{"type":"line","strokeWidth":1,"interpolate":"monotone","clip":true},
"encoding":{"x":{"field":"i","type":"quantitative"},"y":{"field":"v","type":"quantitative"},
"color":{"field":"s","type":"nominal","scale":{"domain":["A","B","P1","P2"],"range":["#f25a5a","#f06a6a","#c98af2","#b360ea"]},"legend":null}}},
{"data":{"name":"k"},"mark":{"type":"rule","color":"#a0a0a0","strokeWidth":0.8},
"encoding":{"x":{"field":"i","type":"quantitative"},"y":{"field":"l","type":"quantitative"},"y2":{"field":"h"}}},
{"data":{"name":"k"},"mark":{"type":"bar","size":1.7},
"encoding":{"x":{"field":"i","type":"quantitative"},"y":{"field":"o","type":"quantitative"},"y2":{"field":"c"},
"color":{"condition":{"test":"datum.c >= datum.o","value":"#4d9764"},"value":"#bf432f"}}},
{"data":{"values":[{"t":"O:1.21610  H:1.21625  L:1.20796  C:1.21435"}]},"mark":{"type":"text","align":"left","baseline":"middle","fontSize":5.5,"color":"#666666"},
"encoding":{"x":{"datum":4},"y":{"datum":1.3623},"text":{"field":"t"}}},
{"data":{"name":"hl"},"transform":[{"filter":"datum.p != 1.24666 && datum.p != 1.21368"}],"mark":{"type":"tick","orient":"horizontal","size":20,"thickness":5.5},
"encoding":{"x":{"datum":292.3},"y":{"field":"p","type":"quantitative"},
"color":{"field":"k","type":"nominal","scale":{"domain":["k","b","r"],"range":["#111111","#1f1fe8","#e8553f"]},"legend":null}}},
{"data":{"name":"hl"},"transform":[{"filter":"datum.p == 1.24666 || datum.p == 1.21368"}],"mark":{"type":"tick","orient":"horizontal","size":20,"thickness":5.5,"yOffset":4.5},
"encoding":{"x":{"datum":292.3},"y":{"field":"p","type":"quantitative"},
"color":{"field":"k","type":"nominal","scale":{"domain":["k","b","r"],"range":["#111111","#1f1fe8","#e8553f"]},"legend":null}}},
{"data":{"name":"hl"},"transform":[{"filter":"datum.p != 1.24666 && datum.p != 1.21368"}],"mark":{"type":"text","fontSize":4.2,"font":"Liberation Sans","color":"#ffffff","baseline":"middle"},
"encoding":{"x":{"datum":292.3},"y":{"field":"p","type":"quantitative"},"text":{"field":"p","type":"quantitative","format":".5f"}}},
{"data":{"name":"hl"},"transform":[{"filter":"datum.p == 1.24666 || datum.p == 1.21368"}],"mark":{"type":"text","fontSize":4.2,"font":"Liberation Sans","color":"#ffffff","baseline":"middle","yOffset":4.5},
"encoding":{"x":{"datum":292.3},"y":{"field":"p","type":"quantitative"},"text":{"field":"p","type":"quantitative","format":".5f"}}}
]},
{"width":578,"height":68,
"layer":[
{"data":{"values":[{"a":80,"b":20}]},"mark":{"type":"rect","color":"#cfe0f7"},
"encoding":{"x":{"datum":-0.5,"type":"quantitative","scale":{"domain":[-0.5,287.35],"nice":false,"zero":false},"axis":null},"x2":{"datum":287.35},
"y":{"field":"a","type":"quantitative","scale":{"domain":[-3.7,106.5],"nice":false,"zero":false},"axis":{"orient":"right","values":[0,20,40,60,80,100],"format":".4f","labelOverlap":false,"labelFontSize":4.1,"labelFont":"Liberation Sans"}},"y2":{"field":"b"}}},
{"data":{"values":[{"a":80},{"a":20}]},"mark":{"type":"rule","color":"#8fb3ea","strokeWidth":1},
"encoding":{"y":{"field":"a","type":"quantitative"}}},
{"data":{"name":"st"},"mark":{"type":"line","color":"#3ed23e","strokeWidth":1.1},
"encoding":{"x":{"field":"i","type":"quantitative"},"y":{"field":"d","type":"quantitative"}}},
{"data":{"name":"st"},"mark":{"type":"line","color":"#ee3b3b","strokeWidth":1.1},
"encoding":{"x":{"field":"i","type":"quantitative"},"y":{"field":"k","type":"quantitative"}}}
]},
{"width":578,"height":57,
"layer":[
{"data":{"name":"mh"},"mark":{"type":"area","color":"#6d9eeb","opacity":0.9,"interpolate":"monotone"},
"encoding":{"x":{"field":"i","type":"quantitative","scale":{"domain":[-0.5,287.35],"nice":false,"zero":false},
"axis":{"orient":"bottom","values":[20,40,63,85,106,129,149,170,192,215,235,258,280],"labelPadding":1,"labelOverlap":false,"labelFontSize":4.8,"labelFontWeight":{"condition":{"test":"datum.value == 106","value":"bold"},"value":"normal"},
"labelExpr":"datum.value==20?'Sep':datum.value==40?'Oct':datum.value==63?'Nov':datum.value==85?'Dec':datum.value==106?'2019':datum.value==129?'Feb':datum.value==149?'Mar':datum.value==170?'Apr':datum.value==192?'May':datum.value==215?'Jun':datum.value==235?'Jul':datum.value==258?'Aug':'Sep'"}},
"y":{"field":"v","type":"quantitative","scale":{"domain":[-0.01276,0.01219],"nice":false,"zero":false},"axis":{"orient":"right","values":[-0.01,-0.005,0,0.005,0.01],"format":".4f","labelOverlap":false,"labelFontSize":4.4,"labelFont":"Liberation Sans"}},
"y2":{"datum":0}}},
{"data":{"name":"ms"},"mark":{"type":"line","color":"#3ed23e","strokeWidth":1.1,"interpolate":"monotone"},
"encoding":{"x":{"field":"i","type":"quantitative"},"y":{"field":"v","type":"quantitative"}}},
{"data":{"name":"mm"},"mark":{"type":"line","color":"#ee3b3b","strokeWidth":1.1,"interpolate":"monotone"},
"encoding":{"x":{"field":"i","type":"quantitative"},"y":{"field":"v","type":"quantitative"}}}
]},
{"width":600,"height":17,"view":{"stroke":null},
"resolve":{"scale":{"x":"independent"}},
"layer":[
{"data":{"values":[{"a":0,"b":10}]},"mark":{"type":"rect","color":"#ececec"},
"encoding":{"y":{"field":"a","type":"quantitative","scale":{"domain":[0,17],"nice":false,"zero":false},"axis":null},"y2":{"field":"b"}}},
{"data":{"name":"tbl"},"mark":{"type":"text","align":"left","baseline":"middle","fontSize":4.8,"color":"#666666"},
"encoding":{"x":{"field":"t","type":"nominal","sort":null,"scale":{"type":"point","range":[6,106],"padding":0},"axis":null},"y":{"datum":5},"text":{"field":"t"}}},
{"data":{"name":"tbr"},"mark":{"type":"text","align":"center","baseline":"middle","fontSize":4.8},
"encoding":{"x":{"field":"t","type":"nominal","scale":{"type":"point","domain":["16:14:59 (UTC+1)","_","%","log","auto","⚙","⤢"],"range":[500.5,592],"padding":0},"axis":null},"y":{"datum":5},"text":{"field":"t"},
"color":{"condition":{"test":"datum.t == 'auto' || datum.t == '⤢'","value":"#3d9be6"},"value":"#666666"}}}
]}
],
"resolve":{"scale":{"x":"independent","y":"independent"}}
}
